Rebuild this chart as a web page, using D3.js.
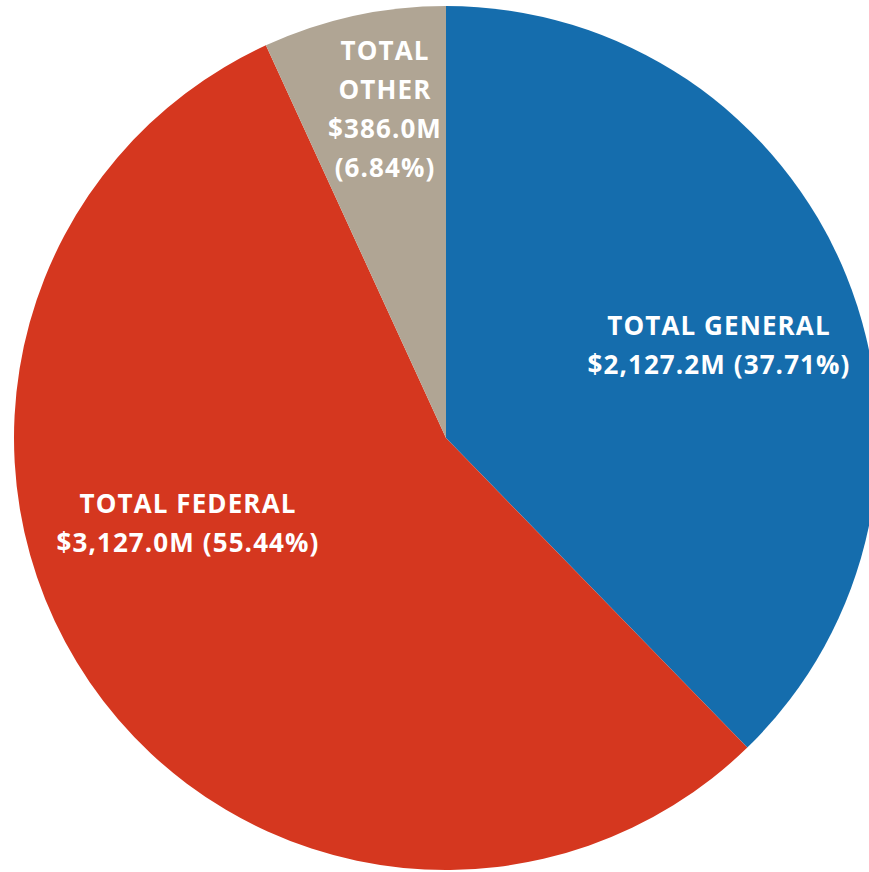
<!DOCTYPE html>
<html><head><meta charset="utf-8">
<script src="https://cdn.jsdelivr.net/npm/d3@7"></script>
<style>html,body{margin:0;padding:0;background:#fff;overflow:hidden}</style>
</head><body>
<svg id="chart" width="869" height="872"></svg>
<script>
const categories = ["TOTAL GENERAL", "TOTAL FEDERAL", "TOTAL OTHER"];
const values = [2127.2, 3127.0, 386.0];
const percents = ["37.71%", "55.44%", "6.84%"];
const colors = ["#156dad", "#d5371f", "#b0a594"];

const svg = d3.select("#chart");
const cx = 446, cy = 438, R = 432;
const g = svg.append("g").attr("transform", `translate(${cx},${cy})`);
const pie = d3.pie().sort(null).value(d => d.v);
const data = categories.map((c, i) => ({c, v: values[i], p: percents[i], i}));
const arcs = pie(data);
const arc = d3.arc().innerRadius(0).outerRadius(R);
g.selectAll("path").data(arcs).join("path")
  .attr("d", arc).attr("fill", d => colors[d.data.i]);

const fmt = v => `$${d3.format(",.1f")(v)}M`;
const layout = [
  {x: 273, y: -103, lines: d => [d.c, `${fmt(d.v)} (${d.p})`]},
  {x: -258, y: 75, lines: d => [d.c, `${fmt(d.v)} (${d.p})`]},
  {x: -61, y: -378, lines: d => [...d.c.split(" "), fmt(d.v), `(${d.p})`]}
];
arcs.forEach(a => {
  const L = layout[a.data.i];
  const t = g.append("text").attr("text-anchor", "middle")
    .attr("font-family", "'Open Sans', sans-serif").attr("font-weight", 700)
    .attr("font-size", 26).attr("letter-spacing", "1.1px").attr("fill", "#fff");
  L.lines(a.data).forEach((s, k) => {
    t.append("tspan").attr("x", L.x).attr("y", L.y + k * 39).text(s);
  });
});
</script>
</body></html>
